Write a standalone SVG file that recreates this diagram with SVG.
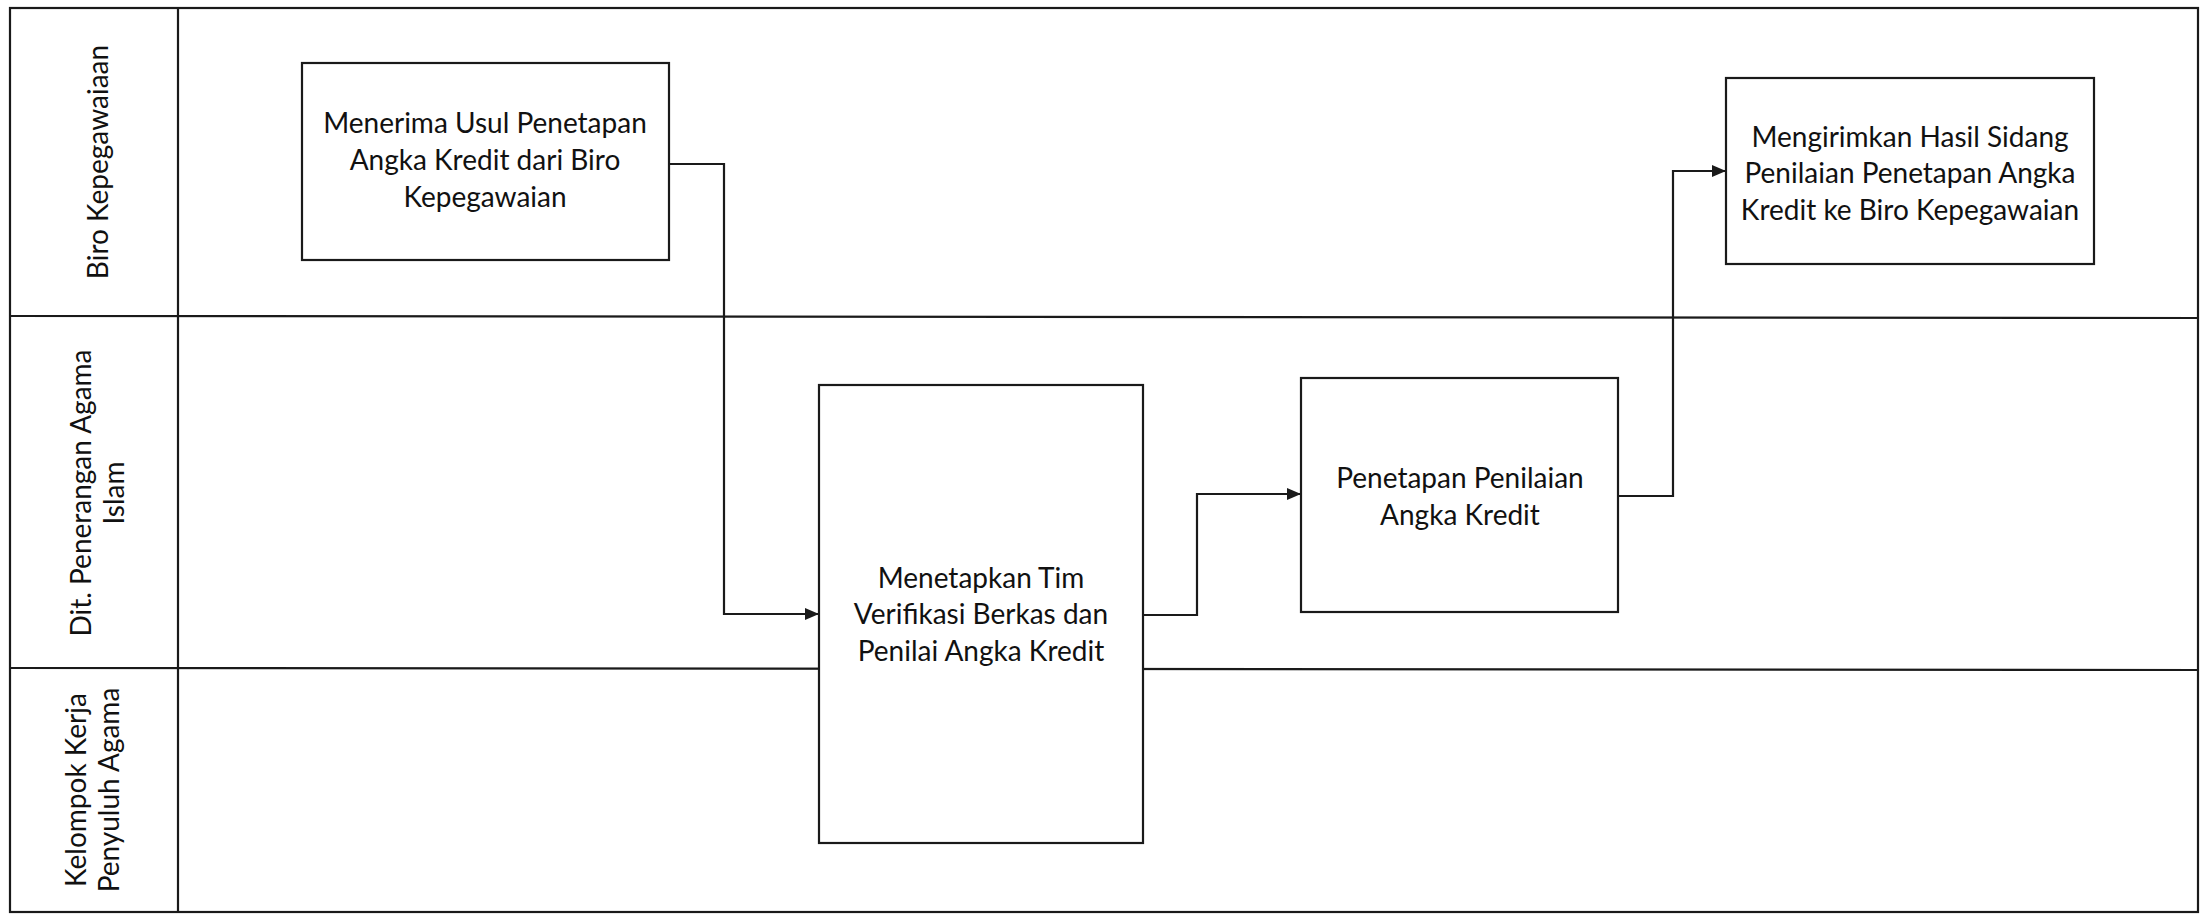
<svg xmlns="http://www.w3.org/2000/svg" width="2201" height="916" viewBox="0 0 2201 916">
<style>
.frame{fill:none;stroke:#1a1a1a;stroke-width:2.2}
.box{fill:#ffffff;stroke:#1a1a1a;stroke-width:2.2}
.conn{fill:none;stroke:#1a1a1a;stroke-width:2.2}
text{font-family:Lato,"Liberation Sans",sans-serif;font-size:28px;fill:#111111;text-anchor:middle}
</style>
<defs>
<marker id="arr" markerWidth="14" markerHeight="12" refX="13" refY="6" orient="auto" markerUnits="userSpaceOnUse">
<path d="M0,0 L14,6 L0,12 Z" fill="#1a1a1a"/>
</marker>
</defs>
<rect width="2201" height="916" fill="#ffffff"/>
<g id="lanes">
<rect class="frame" x="10" y="8" width="2188" height="904"/>
<line class="frame" x1="178" y1="8" x2="178" y2="912"/>
<line class="frame" x1="10" y1="316" x2="2198" y2="318"/>
<line class="frame" x1="10" y1="668" x2="2198" y2="670"/>
<g id="lane-biro">
<text transform="translate(108,162) rotate(-90)">Biro Kepegawaiaan</text>
</g>
<g id="lane-dit">
<text transform="translate(91,493) rotate(-90)">Dit. Penerangan Agama</text>
<text transform="translate(124,493) rotate(-90)">Islam</text>
</g>
<g id="lane-pokja">
<text transform="translate(86,790) rotate(-90)">Kelompok Kerja</text>
<text transform="translate(119,790) rotate(-90)">Penyuluh Agama</text>
</g>
</g>
<g id="connectors">
<polyline class="conn" points="669,164 724,164 724,614 818,614" marker-end="url(#arr)"/>
<polyline class="conn" points="1143,615 1197,615 1197,494 1300,494" marker-end="url(#arr)"/>
<polyline class="conn" points="1618,496 1673,496 1673,171 1725,171" marker-end="url(#arr)"/>
</g>
<g id="node-menerima">
<rect class="box" x="302" y="63" width="367" height="197"/>
<text x="485" y="133">Menerima Usul Penetapan</text>
<text x="485" y="170">Angka Kredit dari Biro</text>
<text x="485" y="207">Kepegawaian</text>
</g>
<g id="node-menetapkan">
<rect class="box" x="819" y="385" width="324" height="458"/>
<text x="981" y="588">Menetapkan Tim</text>
<text x="981" y="624">Verifikasi Berkas dan</text>
<text x="981" y="661">Penilai Angka Kredit</text>
</g>
<g id="node-penetapan">
<rect class="box" x="1301" y="378" width="317" height="234"/>
<text x="1460" y="488">Penetapan Penilaian</text>
<text x="1460" y="525">Angka Kredit</text>
</g>
<g id="node-mengirimkan">
<rect class="box" x="1726" y="78" width="368" height="186"/>
<text x="1910" y="147">Mengirimkan Hasil Sidang</text>
<text x="1910" y="183">Penilaian Penetapan Angka</text>
<text x="1910" y="220">Kredit ke Biro Kepegawaian</text>
</g>
</svg>
